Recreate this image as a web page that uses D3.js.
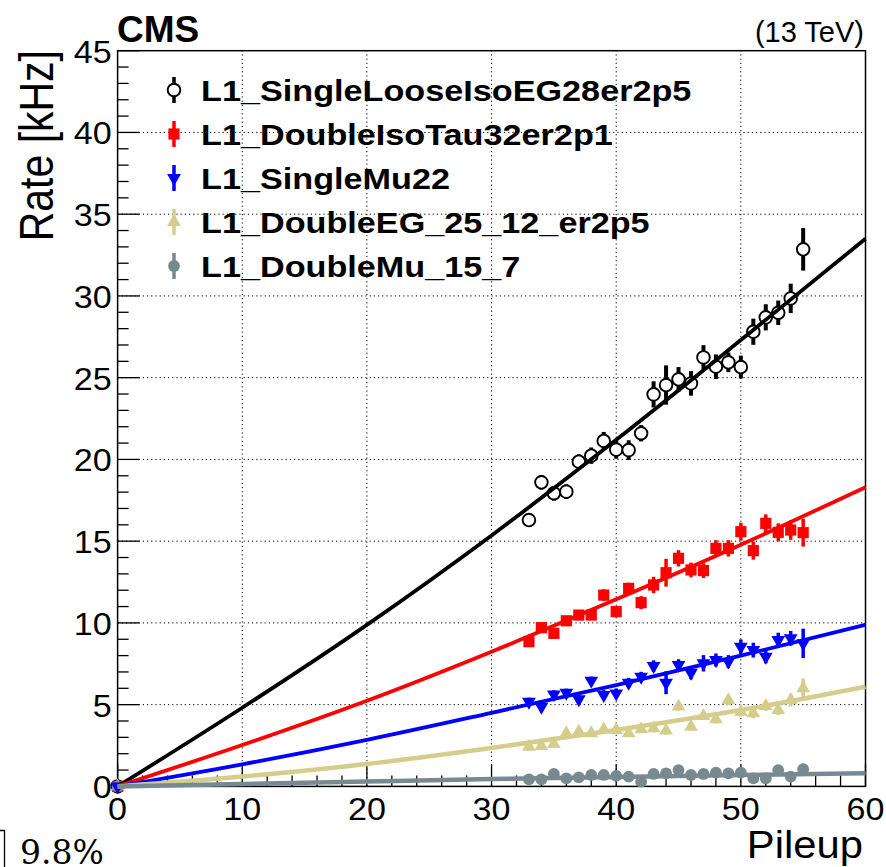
<!DOCTYPE html>
<html>
<head>
<meta charset="utf-8">
<script src="https://cdn.jsdelivr.net/npm/d3@7"></script>
<style>
  body { margin: 0; background: #fff; }
  text { font-family: "Liberation Sans", Arial, Helvetica, sans-serif; }
</style>
</head>
<body>
<svg id="chart" width="886" height="867"></svg>
<script>
// pileup bins (0 plus the measured range)
var pileup = [0, 33, 34, 35, 36, 37, 38, 39, 40, 41, 42, 43, 44, 45, 46, 47, 48, 49, 50, 51, 52, 53, 54, 55];

var egRate  = [0, 16.29, 18.6, 17.93, 18.03, 19.86, 20.23, 21.13, 20.6, 20.57, 21.6, 23.98, 24.55, 24.9, 24.65, 26.24, 25.67, 25.94, 25.65, 27.81, 28.69, 28.97, 29.85, 32.85];
var egErr   = [0, 0.35, 0.45, 0.45, 0.45, 0.45, 0.5, 0.55, 0.55, 0.6, 0.5, 0.8, 1.2, 0.75, 0.75, 0.75, 0.75, 0.6, 0.7, 0.8, 0.8, 0.75, 0.9, 1.3];

var tauRate = [0, 8.85, 9.71, 9.36, 10.13, 10.48, 10.48, 11.7, 10.69, 12.11, 11.24, 12.32, 13.07, 13.95, 13.24, 13.2, 14.56, 14.56, 15.58, 14.42, 16.09, 15.54, 15.68, 15.52];
var tauErr  = [0, 0.3, 0.3, 0.3, 0.3, 0.3, 0.3, 0.35, 0.35, 0.35, 0.4, 0.5, 0.85, 0.5, 0.45, 0.45, 0.5, 0.5, 0.55, 0.55, 0.55, 0.55, 0.6, 0.85];

var muRate  = [0, 5.18, 4.87, 5.63, 5.73, 5.33, 6.47, 5.59, 5.69, 6.34, 6.71, 7.36, 6.34, 7.43, 6.95, 7.53, 7.73, 7.63, 8.54, 8.34, 7.93, 8.95, 9.06, 8.75];
var muErr   = [0, 0.25, 0.25, 0.25, 0.25, 0.25, 0.25, 0.3, 0.3, 0.3, 0.3, 0.35, 0.7, 0.35, 0.4, 0.5, 0.4, 0.4, 0.45, 0.45, 0.4, 0.45, 0.45, 0.9];

var degRate = [0, 2.43, 2.47, 2.59, 3.25, 3.35, 3.25, 3.49, 3.45, 3.25, 3.49, 3.55, 3.41, 4.88, 3.65, 4.31, 4.1, 5.28, 4.57, 4.47, 4.92, 4.67, 5.28, 6.0];
var degErr  = [0, 0.2, 0.2, 0.2, 0.2, 0.2, 0.2, 0.2, 0.2, 0.2, 0.2, 0.25, 0.25, 0.25, 0.25, 0.25, 0.25, 0.3, 0.3, 0.3, 0.3, 0.3, 0.4, 0.6];

var dmuRate = [0, 0.43, 0.43, 0.76, 0.49, 0.55, 0.7, 0.7, 0.64, 0.6, 0.29, 0.76, 0.8, 1.0, 0.7, 0.76, 0.84, 0.8, 0.84, 0.49, 0.49, 1.0, 0.6, 1.05];
var dmuErr  = [0, 0.12, 0.12, 0.12, 0.12, 0.12, 0.12, 0.12, 0.12, 0.12, 0.12, 0.12, 0.12, 0.12, 0.12, 0.12, 0.12, 0.12, 0.12, 0.12, 0.12, 0.12, 0.12, 0.12];

// fit curves
var fitX   = [0, 10, 20, 30, 40, 50, 60];
var egFit  = [0, 4.81, 9.88, 15.35, 21.2, 27.3, 33.5];
var tauFit = [0, 2.53, 5.24, 8.24, 11.44, 14.78, 18.3];
var muFit  = [0, 1.35, 2.85, 4.5, 6.2, 8.0, 9.88];
var degFit = [0, 0.6, 1.37, 2.35, 3.45, 4.67, 6.1];
var dmuFit = [0, 0.15, 0.3, 0.45, 0.58, 0.7, 0.8];

var names = ["L1_SingleLooseIsoEG28er2p5", "L1_DoubleIsoTau32er2p1", "L1_SingleMu22", "L1_DoubleEG_25_12_er2p5", "L1_DoubleMu_15_7"];
var xTicks = [0, 10, 20, 30, 40, 50, 60];
var yTicks = [0, 5, 10, 15, 20, 25, 30, 35, 40, 45];

var series = [
  {name: names[0], rate: egRate,  err: egErr,  fit: egFit,  color: "#000000", marker: "opencircle"},
  {name: names[1], rate: tauRate, err: tauErr, fit: tauFit, color: "#ff0000", marker: "square"},
  {name: names[2], rate: muRate,  err: muErr,  fit: muFit,  color: "#0000ff", marker: "tridown"},
  {name: names[3], rate: degRate, err: degErr, fit: degFit, color: "#d5cd8c", marker: "triup"},
  {name: names[4], rate: dmuRate, err: dmuErr, fit: dmuFit, color: "#778a90", marker: "circle"}
];

var svg = d3.select("#chart");
var plotL = 117.6, plotR = 865.5, plotT = 50.7, plotB = 786.4;

var x = d3.scaleLinear().domain([0, 60]).range([plotL, plotR]);
var y = d3.scaleLinear().domain([0, 45]).range([plotB, plotT]);

// stretch a text sideways (the original fonts are wider than Arial)
function widen(t, f) {
  var w = t.node().getComputedTextLength();
  t.attr("textLength", w * f).attr("lengthAdjust", "spacingAndGlyphs");
}

// grid
var grid = svg.append("g").attr("stroke", "#000").attr("stroke-width", 1).attr("stroke-dasharray", "1.2,3");
grid.selectAll(".gx").data(xTicks.slice(1, -1)).enter().append("line")
  .attr("x1", d => x(d)).attr("x2", d => x(d)).attr("y1", plotB).attr("y2", plotT);
grid.selectAll(".gy").data(yTicks.slice(1, -1)).enter().append("line")
  .attr("x1", plotL).attr("x2", plotR).attr("y1", d => y(d)).attr("y2", d => y(d));

// axes: ticks pointing inward
var gx = svg.append("g").attr("transform", "translate(0," + plotB + ")");
gx.selectAll("line").data(d3.range(0, 61, 2)).enter().append("line")
  .attr("x1", d => x(d)).attr("x2", d => x(d)).attr("y1", 0)
  .attr("y2", d => d % 10 === 0 ? -22 : -11)
  .attr("stroke", "#000").attr("stroke-width", 1.3);
gx.selectAll("text").data(xTicks).enter().append("text")
  .attr("x", d => x(d)).attr("y", 34).attr("text-anchor", "middle")
  .attr("font-size", 31).text(d => d)
  .each(function() { widen(d3.select(this), 1.1); });

var gy = svg.append("g").attr("transform", "translate(" + plotL + ",0)");
gy.selectAll("line").data(d3.range(0, 46, 1)).enter().append("line")
  .attr("y1", d => y(d)).attr("y2", d => y(d)).attr("x1", 0)
  .attr("x2", d => d % 5 === 0 ? 22 : 11)
  .attr("stroke", "#000").attr("stroke-width", 1.3);
gy.selectAll("text").data(yTicks).enter().append("text")
  .attr("x", -6).attr("y", d => y(d) + 12).attr("text-anchor", "end")
  .attr("font-size", 31).text(d => d)
  .each(function() { widen(d3.select(this), 1.1); });

// frame
svg.append("rect").attr("x", plotL).attr("y", plotT).attr("width", plotR - plotL).attr("height", plotB - plotT)
  .attr("fill", "none").attr("stroke", "#000").attr("stroke-width", 1.5);

function markerPath(type) {
  if (type === "square") return d3.symbol().type(d3.symbolSquare).size(125)();
  if (type === "triup" || type === "tridown") return d3.symbol().type(d3.symbolTriangle).size(82)();
  return null;
}

function drawMarker(g, type, color, cx, cy) {
  if (type === "opencircle") {
    g.append("circle").attr("cx", cx).attr("cy", cy).attr("r", 6.3)
      .attr("fill", "#fff").attr("stroke", color).attr("stroke-width", 1.9);
  } else if (type === "circle") {
    g.append("circle").attr("cx", cx).attr("cy", cy).attr("r", 5.9).attr("fill", color);
  } else {
    var rot = type === "tridown" ? 180 : 0;
    g.append("path").attr("d", markerPath(type)).attr("fill", color)
      .attr("transform", "translate(" + cx + "," + cy + ") rotate(" + rot + ")");
  }
}

// error bars and markers, then fits on top
var drawOrder = [0, 1, 3, 4, 2];
var pts = svg.append("g");
drawOrder.forEach(function(si) {
  var s = series[si];
  var g = pts.append("g");
  pileup.forEach(function(p, i) {
    if (s.err[i] > 0) {
      g.append("line").attr("x1", x(p)).attr("x2", x(p))
        .attr("y1", y(s.rate[i] - s.err[i])).attr("y2", y(s.rate[i] + s.err[i]))
        .attr("stroke", s.color).attr("stroke-width", si === 0 ? 4 : 3.5);
    }
  });
  pileup.forEach(function(p, i) {
    drawMarker(g, s.marker, s.color, x(p), y(s.rate[i]));
  });
});

var line = d3.line().x(d => x(d[0])).y(d => y(d[1])).curve(d3.curveMonotoneX);
series.forEach(function(s, si) {
  svg.append("path").datum(fitX.map((v, i) => [v, s.fit[i]]))
    .attr("d", line).attr("fill", "none").attr("stroke", s.color)
    .attr("stroke-width", si >= 3 ? 4.5 : 3.8);
});

// legend
var rowY = [90, 134, 178, 222, 266];
var leg = svg.append("g");
series.forEach(function(s, i) {
  leg.append("line").attr("x1", 174).attr("x2", 174).attr("y1", rowY[i] - 13).attr("y2", rowY[i] + 13)
    .attr("stroke", s.color).attr("stroke-width", 3.5);
  drawMarker(leg, s.marker, s.color, 174, rowY[i]);
  var t = leg.append("text").attr("x", 201).attr("y", rowY[i] + 11)
    .attr("font-size", 30).attr("font-weight", "bold").text(s.name);
  widen(t, 1.14);
});

// titles
svg.append("text").attr("x", 117).attr("y", 41.5).attr("font-size", 37).attr("font-weight", "bold").text("CMS");
svg.append("text").attr("x", 864).attr("y", 41.5).attr("text-anchor", "end").attr("font-size", 29).text("(13 TeV)");
svg.append("text").attr("transform", "translate(53,50) rotate(-90) scale(1,1.18)").attr("text-anchor", "end")
  .attr("font-size", 41).text("Rate [kHz]");
var px = svg.append("text").attr("x", 863).attr("y", 858).attr("text-anchor", "end").attr("font-size", 38).text("Pileup");
widen(px, 1.1);

// clipped piece from a neighbouring panel
svg.append("path").attr("d", "M0,830.5 H4.5 V867").attr("fill", "none").attr("stroke", "#000").attr("stroke-width", 1.3);
svg.append("text").attr("x", 20).attr("y", 864).attr("font-size", 33)
  .style("font-family", "'DejaVu Serif', 'Liberation Serif', serif").text("9.8%");
</script>
</body>
</html>
